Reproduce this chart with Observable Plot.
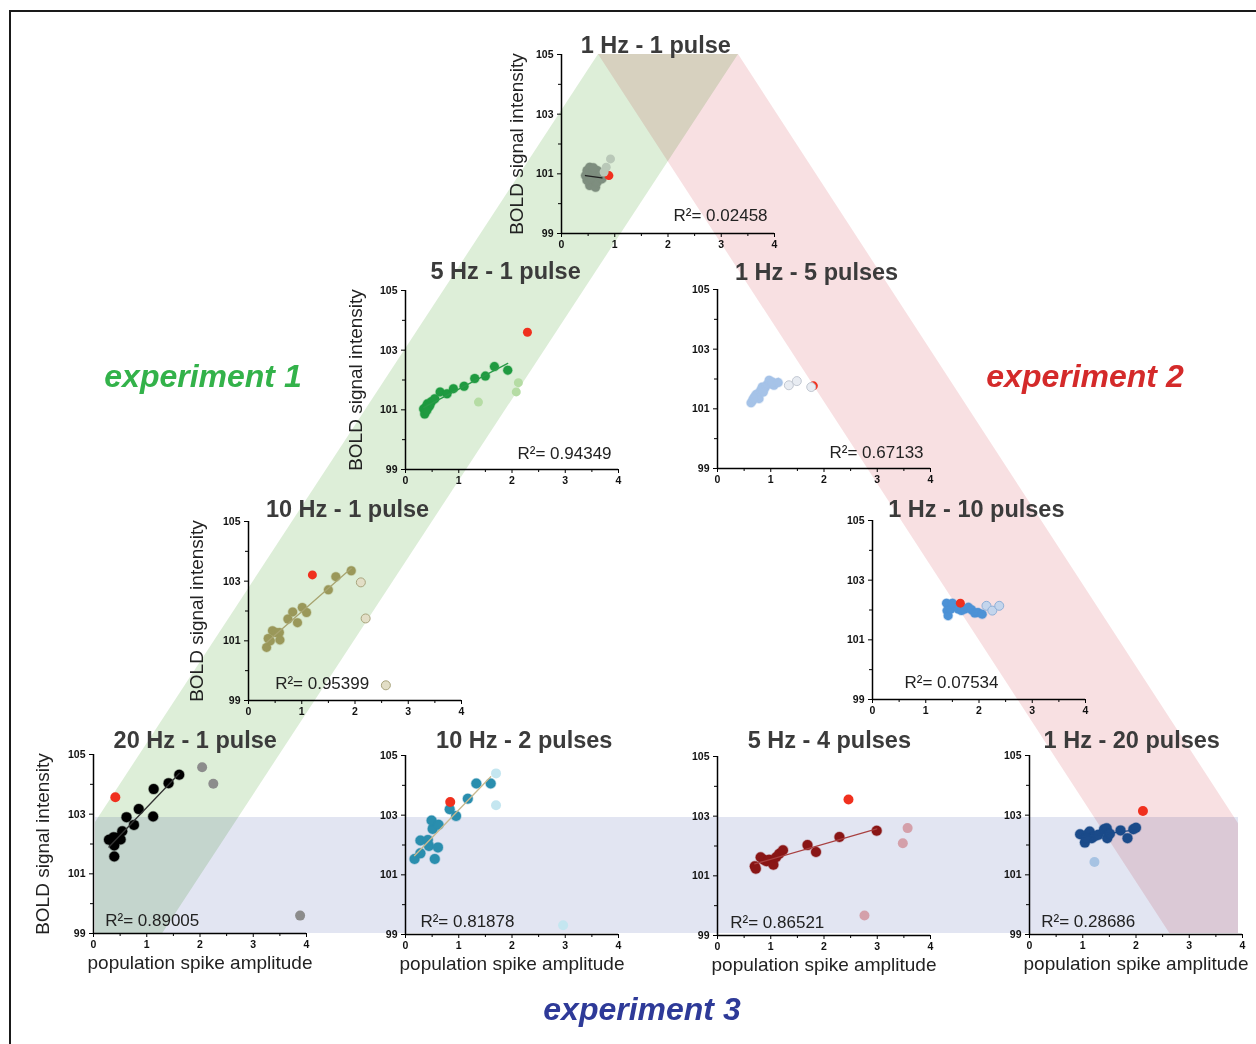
<!DOCTYPE html>
<html><head><meta charset="utf-8">
<script src="https://cdn.jsdelivr.net/npm/d3@7"></script>
<script src="https://cdn.jsdelivr.net/npm/@observablehq/plot@0.6"></script>
<style>
body{margin:0;background:#fff;}
#wrap{position:relative;width:1256px;height:1044px;overflow:hidden;font-family:"Liberation Sans",Arial,sans-serif;}
.panel{position:absolute;}
</style></head><body><div id="wrap"></div>
<script>
// ---------- data ----------
const titles = ["1 Hz - 1 pulse","5 Hz - 1 pulse","1 Hz - 5 pulses","10 Hz - 1 pulse","1 Hz - 10 pulses","20 Hz - 1 pulse","10 Hz - 2 pulses","5 Hz - 4 pulses","1 Hz - 20 pulses"];
const r2Values = ["0.02458","0.94349","0.67133","0.95399","0.07534","0.89005","0.81878","0.86521","0.28686"];
const xTicks = [0,1,2,3,4];
const xMinor = [0.5,1.5,2.5,3.5];
const yTicks = [99,101,103,105];
const yMinor = [100,102,104];
const experimentLabels = ["experiment 1","experiment 2","experiment 3"];
const yLabel = "BOLD signal intensity";
const xLabel = "population spike amplitude";

// 1 Hz - 1 pulse
const p1Main = [[0.48,101.11],[0.53,101.22],[0.58,100.89],[0.61,100.72],[0.53,100.61],[0.48,100.78],[0.67,101.11],[0.70,100.89],[0.64,100.55],[0.73,101.0],[0.57,101.06],[0.45,100.94],[0.67,100.72],[0.76,100.83],[0.60,101.2],[0.55,100.85]];
const p1Excl = [[0.92,101.5],[0.84,101.22],[0.80,101.06]];
const p1Red = [[0.89,100.94]];
// 5 Hz - 1 pulse
const p2Main = [[0.34,101.03],[0.36,100.86],[0.38,101.09],[0.41,101.2],[0.46,101.17],[0.49,101.28],[0.55,101.37],[0.65,101.6],[0.78,101.54],[0.90,101.71],[1.10,101.79],[1.30,102.05],[1.50,102.13],[1.67,102.45],[1.92,102.33],[0.44,101.1],[0.40,100.98]];
const p2Excl = [[1.37,101.26],[2.08,101.6],[2.12,101.91]];
const p2Red = [[2.29,103.6]];
// 1 Hz - 5 pulses
const p3Main = [[0.63,101.2],[0.66,101.28],[0.70,101.39],[0.75,101.5],[0.81,101.62],[0.84,101.73],[0.89,101.7],[0.93,101.81],[0.97,101.96],[1.0,101.84],[1.06,101.79],[1.14,101.88],[0.72,101.47],[0.78,101.34],[0.86,101.56],[0.68,101.36],[1.03,101.9]];
const p3Excl = [[1.34,101.79],[1.49,101.93],[1.76,101.73]];
const p3Red = [[1.8,101.77]];
// 10 Hz - 1 pulse
const p4Main = [[0.34,100.78],[0.37,101.08],[0.41,101.0],[0.45,101.34],[0.51,101.28],[0.58,101.28],[0.59,101.03],[0.74,101.73],[0.83,101.97],[0.92,101.61],[1.01,102.12],[1.09,101.95],[1.50,102.71],[1.64,103.15],[1.93,103.35]];
const p4Excl = [[2.11,102.96],[2.2,101.75],[2.58,99.51]];
const p4Red = [[1.2,103.21]];
// 1 Hz - 10 pulses
const p5Main = [[1.39,102.23],[1.40,101.98],[1.42,101.81],[1.47,102.03],[1.55,102.14],[1.61,102.03],[1.67,101.98],[1.73,102.03],[1.80,102.09],[1.86,102.01],[1.92,101.9],[1.98,101.92],[2.06,101.86],[1.5,102.23]];
const p5Excl = [[2.14,102.14],[2.25,101.98],[2.38,102.14]];
const p5Red = [[1.65,102.23]];
// 20 Hz - 1 pulse
const p6Main = [[0.29,102.14],[0.38,102.23],[0.39,101.95],[0.39,101.58],[0.51,102.15],[0.46,102.21],[0.54,102.43],[0.62,102.9],[0.76,102.64],[0.85,103.17],[1.12,102.92],[1.13,103.84],[1.41,104.04],[1.61,104.32]];
const p6Excl = [[2.04,104.57],[2.25,104.02],[3.88,99.6]];
const p6Red = [[0.41,103.57]];
// 10 Hz - 2 pulses
const p7Main = [[0.17,101.53],[0.28,101.72],[0.28,102.15],[0.42,102.17],[0.44,101.97],[0.51,102.54],[0.49,102.82],[0.55,101.53],[0.61,101.92],[0.62,102.68],[0.83,103.2],[0.95,102.97],[1.17,103.55],[1.33,104.06],[1.60,104.06]];
const p7Excl = [[1.70,104.4],[1.70,103.33],[2.96,99.31]];
const p7Red = [[0.84,103.44]];
// 5 Hz - 4 pulses
const p8Main = [[0.70,101.32],[0.72,101.24],[0.81,101.62],[0.87,101.54],[0.92,101.49],[0.97,101.54],[1.05,101.37],[1.10,101.62],[1.16,101.74],[1.23,101.86],[1.69,102.03],[1.85,101.8],[2.29,102.3],[2.99,102.51]];
const p8Excl = [[3.48,102.09],[3.57,102.6],[2.76,99.67]];
const p8Red = [[2.46,103.56]];
// 1 Hz - 20 pulses
const p9Main = [[0.95,102.36],[1.04,102.08],[1.09,102.36],[1.13,102.45],[1.17,102.23],[1.23,102.3],[1.29,102.34],[1.40,102.53],[1.45,102.56],[1.46,102.23],[1.51,102.38],[1.71,102.49],[1.84,102.23],[1.95,102.53],[2.0,102.58],[1.06,102.23]];
const p9Excl = [[1.22,101.43]];
const p9Red = [[2.13,103.14]];

const mainSets = [p1Main,p2Main,p3Main,p4Main,p5Main,p6Main,p7Main,p8Main,p9Main];
const exclSets = [p1Excl,p2Excl,p3Excl,p4Excl,p5Excl,p6Excl,p7Excl,p8Excl,p9Excl];
const redSets  = [p1Red,p2Red,p3Red,p4Red,p5Red,p6Red,p7Red,p8Red,p9Red];

// ---------- layout & style ----------
const FW = 213, FH = 179;
const layout = [
 {x0:561, top:54,  tx:1.77, tdy:9,  r2x:3.87, r2y:99.6, r2a:"end",   yl:45, xl:false, r:4.5, c:"#7e8e7f", e:"#b9c8b8", es:"none",   ln:"#222"},
 {x0:405, top:290, tx:1.88, tdy:19, r2x:3.87, r2y:99.55,r2a:"end",   yl:50, xl:false, r:4.5, c:"#1f9a40", e:"#b5dca4", es:"none",   ln:"#2a9a48"},
 {x0:717, top:289, tx:1.86, tdy:17, r2x:3.87, r2y:99.55,r2a:"end",   yl:0,  xl:false, r:4.5, c:"#a6c3e8", e:"#e8ecf2", es:"#c2c8d2", ln:"#a6c3e8"},
 {x0:248, top:521, tx:1.86, tdy:12, r2x:0.5,  r2y:99.57,r2a:"start", yl:52, xl:false, r:4.5, c:"#9a985a", e:"#e2dec6", es:"#a9a57e", ln:"#a8a470"},
 {x0:872, top:520, tx:1.95, tdy:11, r2x:0.6,  r2y:99.57,r2a:"start", yl:0,  xl:false, r:4.5, c:"#4d92d6", e:"#c4d5ec", es:"#8fb0d8", ln:"#4d92d6"},
 {x0:93,  top:754, tx:1.91, tdy:14, r2x:0.22, r2y:99.44,r2a:"start", yl:51, xl:true,  r:5,   c:"#000000", e:"#8c8c8c", es:"none",   ln:"#333"},
 {x0:405, top:755, tx:2.23, tdy:15, r2x:0.28, r2y:99.44,r2a:"start", yl:0,  xl:true,  r:5,   c:"#2a8eae", e:"#c4e6f0", es:"none",   ln:"#c8b88e"},
 {x0:717, top:756, tx:2.10, tdy:16, r2x:0.24, r2y:99.44,r2a:"start", yl:0,  xl:true,  r:5,   c:"#8a1616", e:"#d4a0aa", es:"none",   ln:"#a84040"},
 {x0:1029,top:755, tx:1.92, tdy:15, r2x:0.22, r2y:99.44,r2a:"start", yl:0,  xl:true,  r:5,   c:"#1b4b8a", e:"#a7c3e3", es:"none",   ln:"#1b4b8a"}
];
const RED = "#f0301e";
const FONT = '"Liberation Sans", Arial, Helvetica, sans-serif';
const fmt = d => String(d);

const wrap = d3.select("#wrap");

// ---------- background bands & frame ----------
const bg = wrap.append("svg").attr("width",1256).attr("height",1044)
  .style("position","absolute").style("left","0px").style("top","0px");
const bandG = bg.append("g");
const sG = 0.655, sR = 0.65, topY = 54, botY = 933, bandL = 598, bandR = 738, clipL = 95, clipR = 1238, blueTop = 817;
const greenPts = [[bandL,topY],[bandR,topY],[bandR - sG*(botY-topY),botY],[clipL,botY],[clipL, topY + (bandL-clipL)/sG]];
const redPts = [[bandL,topY],[bandR,topY],[clipR, topY + (clipR-bandR)/sR],[clipR,botY],[bandL + sR*(botY-topY),botY]];
const bluePts = [[clipL,blueTop],[clipR,blueTop],[clipR,botY],[clipL,botY]];
const line = d3.line();
bandG.append("path").attr("d", line(bluePts)+"Z").attr("fill","#e2e5f2").style("mix-blend-mode","multiply");
bandG.append("path").attr("d", line(greenPts)+"Z").attr("fill","#ddeed8").style("mix-blend-mode","multiply");
bandG.append("path").attr("d", line(redPts)+"Z").attr("fill","#f8e0e2").style("mix-blend-mode","multiply");
bg.append("rect").attr("x",10).attr("y",11).attr("width",1300).attr("height",1100)
  .attr("fill","none").attr("stroke","#1a1a1a").attr("stroke-width",2);
const expPos = [[203,376,"#33b24a"],[1085,376,"#d42a2a"],[642,1009,"#2e3a98"]];
experimentLabels.forEach((t,i)=>{
  bg.append("text").attr("x",expPos[i][0]).attr("y",expPos[i][1])
    .attr("text-anchor","middle").attr("dominant-baseline","central")
    .attr("font-family",FONT).attr("font-weight","bold").attr("font-style","italic")
    .attr("font-size",32).attr("fill",expPos[i][2]).text(t);
});

// ---------- panels ----------
const ml = 75, mr = 40, mt = 45, mb = 55;
layout.forEach((L,i)=>{
  const marks = [
    Plot.ruleX([0], {y1:99, y2:105, stroke:"#000", strokeWidth:1.5}),
    Plot.ruleY([99], {x1:0, x2:4, stroke:"#000", strokeWidth:1.5}),
    Plot.axisY({ticks:yTicks, tickFormat:fmt, tickSize:4, tickPadding:4, fontSize:10.5, fontWeight:"bold", label:null, stroke:"#000", fill:"#111"}),
    Plot.axisY({ticks:yMinor, tickSize:3, tickFormat:()=>"", label:null, stroke:"#000"}),
    Plot.axisX({ticks:xTicks, tickFormat:fmt, tickSize:4, tickPadding:3, fontSize:10.5, fontWeight:"bold", label:null, stroke:"#000", fill:"#111"}),
    Plot.axisX({ticks:xMinor, tickSize:3, tickFormat:()=>"", label:null, stroke:"#000"}),
    Plot.dot(mainSets[i], {x:d=>d[0], y:d=>d[1], r:L.r, fill:L.c, stroke:L.c, strokeOpacity:0.3}),
    Plot.linearRegressionY(mainSets[i], {x:d=>d[0], y:d=>d[1], ci:0, stroke:L.ln, strokeWidth:1.3}),
    Plot.dot(redSets[i], {x:d=>d[0], y:d=>d[1], r:L.r, fill:RED}),
    Plot.dot(exclSets[i], {x:d=>d[0], y:d=>d[1], r:L.r, fill:L.e, stroke:L.es, strokeWidth:1}),
    Plot.text([titles[i]], {x:L.tx, y:105, dy:-L.tdy, fontSize:23.5, fontWeight:"bold", fill:"#3b3b3b"}),
    Plot.text([`R\u00B2= ${r2Values[i]}`], {x:L.r2x, y:L.r2y, textAnchor:L.r2a, fontSize:17, fill:"#222"})
  ];
  if (L.yl) marks.push(Plot.text([yLabel], {frameAnchor:"left", textAnchor:"middle", rotate:-90, dx:-L.yl, fontSize:19, fill:"#222"}));
  if (L.xl) marks.push(Plot.text([xLabel], {frameAnchor:"bottom", textAnchor:"middle", dy:35, fontSize:19, fill:"#222"}));
  const chart = Plot.plot({
    width: FW+ml+mr, height: FH+mt+mb,
    marginLeft: ml, marginRight: mr, marginTop: mt, marginBottom: mb,
    style: {background:"transparent", overflow:"visible", fontFamily:FONT},
    x: {domain:[0,4]}, y: {domain:[99,105]},
    marks
  });
  const div = wrap.append("div").attr("class","panel")
    .style("left",(L.x0-ml)+"px").style("top",(L.top-mt)+"px")
    .style("width",(FW+ml+mr)+"px");
  div.node().appendChild(chart);
});
</script></body></html>
